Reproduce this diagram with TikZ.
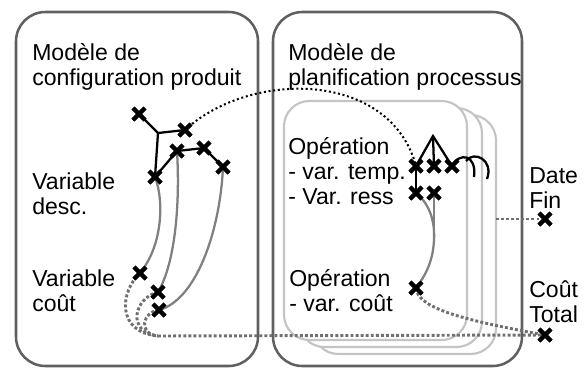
\documentclass[tikz,border=0pt]{standalone}
\usepackage{fontspec}
\setmainfont{Liberation Sans}
\usetikzlibrary{shapes.misc}

\begin{document}
\begin{tikzpicture}[x=0.75pt,y=0.75pt,yscale=-1,xscale=1,
  bigbox/.style={draw={rgb,255:red,96;green,96;blue,96},line width=1.9pt,rounded corners=22pt},
  opcard/.style={draw={rgb,255:red,196;green,196;blue,196},fill=white,line width=1.6pt,rounded corners=19pt},
  xmark/.style={cross out,draw=black,line width=3pt,minimum size=6pt,inner sep=0pt},
  tree/.style={black,line width=1.7pt},
  link/.style={draw={rgb,255:red,128;green,128;blue,128},line width=1.7pt},
  costlink/.style={draw={rgb,255:red,112;green,112;blue,112},line width=2.2pt,dash pattern=on 2.2pt off 1.6pt},
  timelink/.style={black,line width=1.5pt,dash pattern=on 1.5pt off 2pt},
  txt/.style={anchor=base west,inner sep=0pt,align=left,font=\fontsize{17.3}{18.75}\selectfont}]
\useasboundingbox (0,0) rectangle (586,369);

%Shape: Rounded Rect [produit]
\draw [bigbox] (16,12) rectangle (258,366);
%Shape: Rounded Rect [processus]
\draw [bigbox] (273,12) rectangle (522,366);
%Shape: Rounded Rect [operations, back to front]
\draw [opcard] (313,115) rectangle (496,354);
\draw [opcard] (299,108) rectangle (482,347);
\draw [opcard] (284,101) rectangle (467,340);

% Text Node
\node (tProd) [txt] at (32,85) {Modèle de\\configuration produit};
% Text Node
\node (tProc) [txt] at (288,85) {Modèle de\\planification processus};
% Text Node
\node (tDesc) [txt] at (32,214) {Variable\\desc.};
% Text Node
\node (tCout) [txt] at (32,311) {Variable\\coût};
% Text Node
\node (tOpA) [txt] at (288,204) {Opération\\- var. temp.\\- Var. ress};
% Text Node
\node (tOpB) [txt] at (289,311) {Opération\\- var. coût};
% Text Node
\node (tDate) [txt] at (529,208) {Date\\Fin};
% Text Node
\node (tTotal) [txt] at (529,322) {Coût\\Total};

%Markers: variables descriptives
\node (dA) [xmark] at (139,114) {};
\node (dB) [xmark] at (185,130) {};
\node (dC) [xmark] at (155,177) {};
\node (dD) [xmark] at (177,151) {};
\node (dE) [xmark] at (204,148) {};
\node (dF) [xmark] at (223,167) {};
\coordinate (jA) at (158,133);
%Markers: variables cout
\node (cA) [xmark] at (140,273) {};
\node (cB) [xmark] at (158,292) {};
\node (cC) [xmark] at (159,310) {};
\coordinate (mCout) at (158,336);
%Markers: operation
\node (oA) [xmark] at (416,166) {};
\node (oB) [xmark] at (434,166) {};
\node (oC) [xmark] at (452,166) {};
\node (rA) [xmark] at (416,193) {};
\node (rB) [xmark] at (434,193) {};
\node (oK) [xmark] at (416,288) {};
\coordinate (oTop) at (433,136);
\coordinate (mRess) at (434,240);
\coordinate (loopB) at (466,161);
\coordinate (loopAend) at (474,177);
\coordinate (loopBend) at (487,179);
\coordinate (cardEdge) at (496,219);
%Markers: resultats
\node (mDate) [xmark] at (545,219) {};
\node (mTotal) [xmark] at (545,335) {};

%Tree lines
\draw [tree] (dA.center) -- (jA) -- (dB.center);
\draw [tree] (jA) -- (dC.center) -- (dD.center) -- (dE.center) -- (dF.center);
\draw [tree] (oA.center) -- (oTop) -- (oC.center);
\draw [tree] (oTop) -- (oB.center);
\draw [tree] (oA.center) -- (rA.center);
\draw [tree] (oC.center) .. controls (459,152) and (477,154) .. (loopAend);
\draw [tree] (loopB) .. controls (474,150) and (494,160) .. (loopBend);

%Gray links
\draw [link] (dC.center) .. controls (164,200) and (163,245) .. (cA.center);
\draw [link] (dD.center) .. controls (180,200) and (176,262) .. (cB.center);
\draw [link] (dF.center) .. controls (220,232) and (196,300) .. (cC.center);
\draw [link] (rA.center) .. controls (431,205) and (435,224) .. (mRess);
\draw [link] (rB.center) -- (mRess);
\draw [link] (mRess) .. controls (433,262) and (425,276) .. (oK.center);

%Dotted links
\draw [costlink] (cA.center) .. controls (120,292) and (116,332) .. (mCout);
\draw [costlink] (cB.center) .. controls (134,298) and (126,332) .. (mCout);
\draw [costlink] (cC.center) .. controls (142,312) and (138,334) .. (mCout);
\draw [costlink] (mCout) -- (mTotal.center);
\draw [costlink] (oK.center) .. controls (418,306) and (450,318) .. (mTotal.center);
\draw [costlink] (cardEdge) -- (mDate.center);
\draw [timelink] (dB.center) .. controls (250,70) and (390,70) .. (oA.center);

%Markers on top
\foreach \m in {dA,dB,dC,dD,dE,dF,cA,cB,cC,oA,oB,oC,rA,rB,oK,mDate,mTotal}
  \node [xmark] at (\m) {};

\end{tikzpicture}
\end{document}
